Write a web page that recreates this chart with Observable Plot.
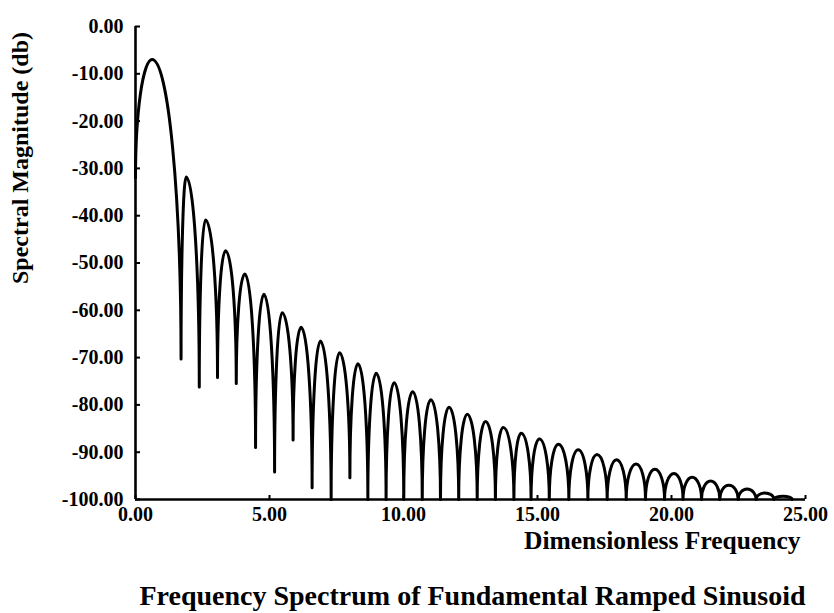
<!DOCTYPE html>
<html><head><meta charset="utf-8">
<script src="https://cdn.jsdelivr.net/npm/d3@7"></script>
<script src="https://cdn.jsdelivr.net/npm/@observablehq/plot@0.6"></script>
<style>body{margin:0;background:#fff;}</style>
</head><body><div id="chart"></div>
<script>
// Main lobe: start at f=0 and its peak
const mainLobeX = [0, 0.62];
const mainLobeDb = [-32, -7];
// Nulls (dips)
const nullX = [1.70, 2.38, 3.06, 3.76, 4.48, 5.19, 5.88, 6.59, 7.30, 8.00, 8.67, 9.35, 10.01, 10.70, 11.38, 12.06, 12.75, 13.43, 14.12, 14.76, 15.44, 16.17, 16.88, 17.60, 18.31, 19.03, 19.74, 20.43, 21.12, 21.80, 22.49, 23.16, 23.82, 24.50];
const nullDb = [-70.3, -76.2, -74.2, -75.5, -89.0, -94.2, -87.4, -97.5, -100, -95.4, -100, -100, -100, -100, -100, -100, -100, -100, -100, -100, -100, -100, -100, -100, -100, -100, -100, -100, -100, -100, -100, -100, -100, -100];
// Side-lobe peaks
const peakX = [1.89, 2.61, 3.36, 4.08, 4.79, 5.47, 6.18, 6.90, 7.61, 8.30, 8.98, 9.65, 10.34, 11.02, 11.70, 12.38, 13.06, 13.72, 14.39, 15.07, 15.78, 16.52, 17.22, 17.95, 18.68, 19.38, 20.09, 20.77, 21.46, 22.14, 22.82, 23.48, 24.16];
const peakDb = [-31.8, -40.9, -47.4, -52.3, -56.6, -60.5, -63.6, -66.5, -69.0, -71.3, -73.3, -75.3, -77.2, -78.9, -80.5, -82.0, -83.5, -84.8, -86.0, -87.2, -88.3, -89.5, -90.5, -91.6, -92.5, -93.6, -94.5, -95.3, -96.1, -97.0, -97.8, -98.6, -99.3];
// Axis ticks
const xTicks = [0, 5, 10, 15, 20, 25];
const yTicks = [0, -10, -20, -30, -40, -50, -60, -70, -80, -90, -100];

const points = [];
mainLobeX.forEach((x, i) => points.push({f: x, db: mainLobeDb[i]}));
nullX.forEach((x, i) => {
  points.push({f: x, db: nullDb[i]});
  if (i < peakX.length) points.push({f: peakX[i], db: peakDb[i]});
});

// Curve: arch segments, vertical tangent at nulls, flat tangent at peaks
function ArchCurve(context) { this._context = context; }
ArchCurve.prototype = {
  areaStart() {},
  areaEnd() {},
  lineStart() { this._point = 0; },
  lineEnd() {},
  point(x, y) {
    x = +x; y = +y;
    if (this._point === 0) {
      this._point = 1;
      this._context.moveTo(x, y);
    } else {
      const x0 = this._x0, y0 = this._y0, k = 0.5523;
      if (y0 > y) this._context.bezierCurveTo(x0, y0 + k * (y - y0), x - k * (x - x0), y, x, y);
      else this._context.bezierCurveTo(x0 + k * (x - x0), y0, x, y + k * (y0 - y), x, y);
    }
    this._x0 = x; this._y0 = y;
  }
};
const curveArch = ctx => new ArchCurve(ctx);

const fmt = d => d.toFixed(2);

const chart = Plot.plot({
  width: 834,
  height: 613,
  marginLeft: 135,
  marginRight: 29,
  marginTop: 26,
  marginBottom: 114,
  style: {fontFamily: "'Liberation Serif', 'Times New Roman', serif", fontWeight: "bold", fontSize: "20px", color: "#000", background: "#fff"},
  x: {domain: [0, 25]},
  y: {domain: [-100, 0]},
  marks: [
    Plot.axisY(yTicks, {tickSize: 0, tickPadding: 12, tickFormat: fmt, label: null, fontSize: 20}),
    Plot.axisY(yTicks, {tickSize: 5, dx: 5, text: null, label: null, strokeWidth: 2}),
    Plot.axisX(xTicks, {tickSize: 0, tickPadding: 7, tickFormat: fmt, label: null, fontSize: 20}),
    Plot.axisX(xTicks, {tickSize: 4, dy: -4, text: null, label: null, strokeWidth: 2}),
    Plot.ruleX([0], {strokeWidth: 2.6}),
    Plot.ruleY([-100], {strokeWidth: 2.6}),
    Plot.line(points, {x: "f", y: "db", curve: curveArch, stroke: "#000", strokeWidth: 3, strokeLinejoin: "round"}),
    Plot.text(["Spectral Magnitude (db)"], {frameAnchor: "left", textAnchor: "middle", rotate: -90, dx: -115, dy: -105, fontSize: 24, fontWeight: "bold"}),
    Plot.text(["Dimensionless Frequency"], {frameAnchor: "bottom-right", textAnchor: "end", dx: -5, dy: 49, fontSize: 25.5, fontWeight: "bold"}),
    Plot.text(["Frequency Spectrum of Fundamental Ramped Sinusoid"], {frameAnchor: "bottom", textAnchor: "middle", dx: 2, dy: 105, fontSize: 28, fontWeight: "bold"})
  ]
});
document.getElementById("chart").append(chart);
</script>
</body></html>
